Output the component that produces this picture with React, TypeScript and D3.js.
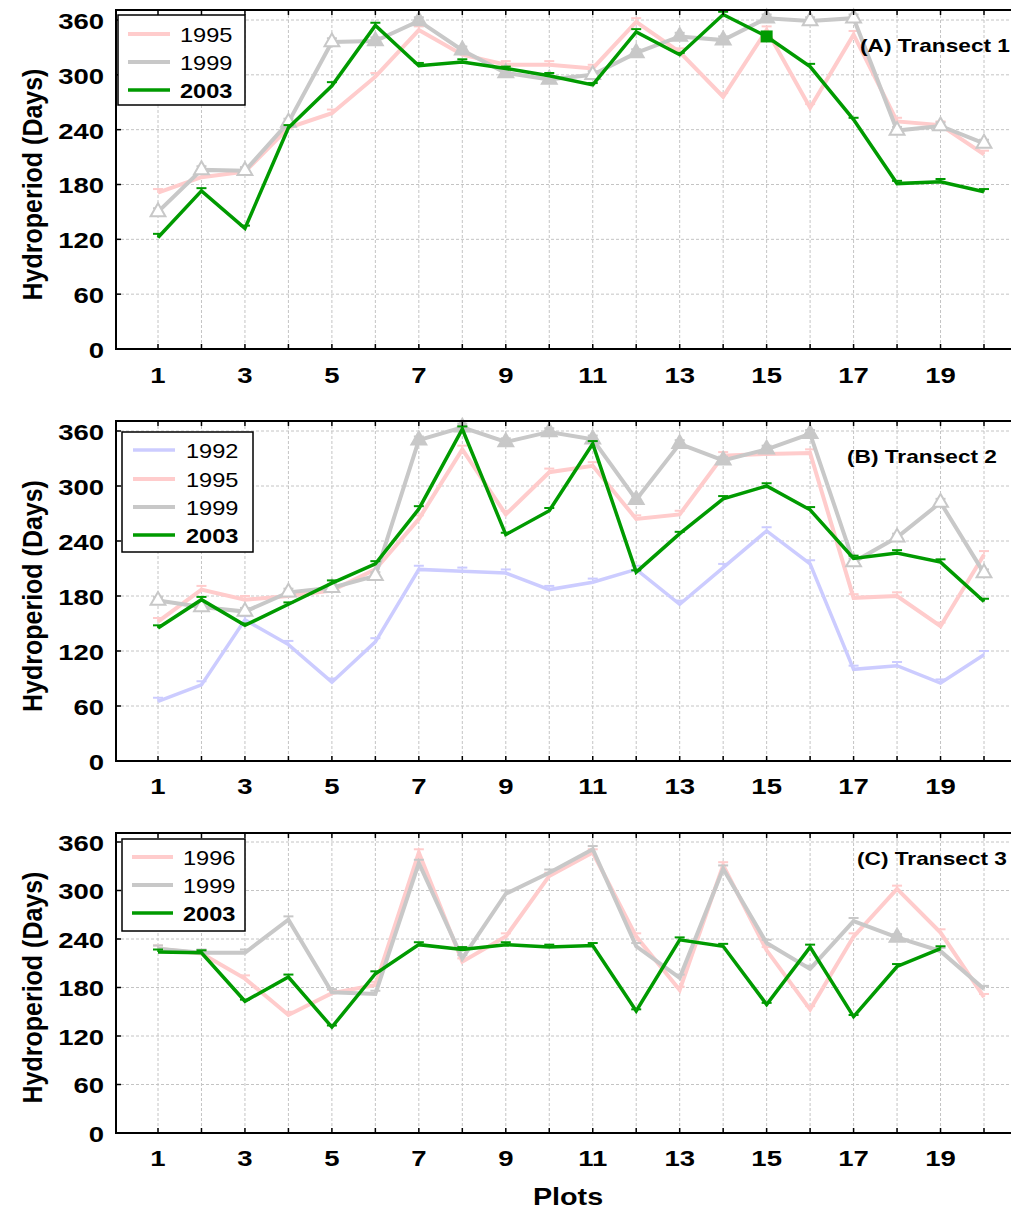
import * as d3 from 'd3';

// ---- data ----
const PLOTS = [1, 2, 3, 4, 5, 6, 7, 8, 9, 10, 11, 12, 13, 14, 15, 16, 17, 18, 19, 20];
const X_LABELS = [1, 3, 5, 7, 9, 11, 13, 15, 17, 19];
const Y_TICKS = [0, 60, 120, 180, 240, 300, 360];

// Transect 1
const A_1995 = [171, 188, 194, 242, 258, 298, 349, 322, 311, 311, 307, 358, 325, 276, 349, 264, 344, 249, 245, 213];
const A_1999 = [150, 196, 195, 248, 336, 337, 359, 327, 302, 295, 300, 324, 342, 338, 362, 359, 362, 239, 244, 225];
const A_1999_MARK = ['h', 'h', 'h', 'h', 'h', 'f', 'f', 'f', 'f', 'f', 'h', 'f', 'f', 'f', 'f', 'h', 'h', 'h', 'h', 'h'];
const A_2003 = [122, 173, 132, 242, 288, 354, 310, 314, 307, 299, 289, 347, 322, 366, 342, 309, 251, 181, 183, 172];
const A_2003_ERR = [4, 3, 3, 3, 4, 3, 3, 3, 2, 3, 2, 3, 2, 3, 3, 3, 2, 3, 3, 3];
const A_2003_SQUARE = [15];

// Transect 2
const B_1992 = [65, 83, 154, 127, 86, 130, 209, 207, 205, 187, 195, 209, 171, 211, 251, 215, 100, 104, 85, 116];
const B_1995 = [152, 187, 176, 180, 186, 209, 264, 340, 269, 315, 322, 264, 269, 333, 335, 336, 178, 180, 147, 225];
const B_1999 = [175, 168, 163, 184, 189, 202, 350, 364, 348, 359, 351, 285, 346, 328, 340, 357, 217, 244, 282, 205];
const B_1999_MARK = ['h', 'h', 'h', 'h', 'h', 'h', 'f', 'f', 'f', 'f', 'f', 'f', 'f', 'f', 'f', 'f', 'h', 'h', 'h', 'h'];
const B_2003 = [145, 176, 148, 171, 194, 215, 275, 362, 247, 273, 346, 206, 248, 286, 300, 274, 221, 227, 217, 174];
const B_2003_ERR = [3, 3, 2, 2, 3, 3, 3, 3, 2, 3, 3, 2, 2, 3, 3, 3, 3, 3, 3, 3];

// Transect 3
const C_1996 = [228, 222, 191, 146, 173, 183, 347, 212, 243, 318, 347, 243, 177, 331, 226, 153, 243, 302, 248, 168];
const C_1999 = [228, 223, 223, 264, 174, 172, 334, 216, 296, 322, 351, 231, 192, 327, 235, 203, 262, 242, 225, 178];
const C_1999_MARK = ['', '', '', '', '', '', '', '', '', '', '', '', '', '', '', '', '', 'f', '', ''];
const C_2003 = [224, 223, 163, 193, 131, 197, 233, 227, 233, 230, 232, 151, 239, 231, 159, 230, 144, 206, 228];
const C_2003_ERR = [3, 3, 2, 3, 2, 3, 3, 3, 3, 3, 3, 2, 3, 3, 2, 3, 2, 3, 3];

const FADED_ERR = 4;

const GREEN = '#009a00';
const PINK = '#ffcccc';
const GREY = '#c8c8c8';
const BLUE = '#ccccff';

const FONT = '"Liberation Sans", Arial, sans-serif';
const STRETCH = 1.25;

type Series = {
  label: string;
  values: number[];
  color: string;
  width: number;
  bold?: boolean;
  err?: number[];
  marks?: string[];
  squares?: number[];
};

type PanelProps = {
  top: number;
  y360: number;
  y0: number;
  labelY: number;
  series: Series[];
  legend: { x0: number; y0: number; x1: number; y1: number; rows: number[]; lx0: number; lx1: number; tx: number };
  title: string;
  titleX: number;
  titleY: number;
};

const LEFT = 116;
const RIGHT = 1011;

const x = d3.scaleLinear().domain([1, 20]).range([158, 984]);

function SText({ x: tx, y: ty, children, size, bold, anchor = 'start', sx = STRETCH }: any) {
  return (
    <text
      transform={`translate(${tx},${ty}) scale(${sx},1)`}
      textAnchor={anchor}
      dominantBaseline="central"
      fontFamily={FONT}
      fontSize={size}
      fontWeight={bold ? 'bold' : 'normal'}
      fill="#000"
    >
      {children}
    </text>
  );
}

function Panel({ top, y360, y0, labelY, series, legend, title, titleX, titleY }: PanelProps) {
  const y = d3.scaleLinear().domain([0, 360]).range([y0, y360]);
  const line = d3
    .line<number>()
    .x((_, i) => x(PLOTS[i]))
    .y((d) => y(d));
  const tri = d3.symbol(d3.symbolTriangle, 95)();

  return (
    <g>
      {/* grid */}
      {PLOTS.map((p) => (
        <line key={'gx' + p} x1={x(p)} x2={x(p)} y1={top} y2={y0} stroke="#c4c4c4" strokeDasharray="3,2" />
      ))}
      {Y_TICKS.filter((t) => t > 0).map((t) => (
        <line key={'gy' + t} x1={LEFT} x2={RIGHT} y1={y(t)} y2={y(t)} stroke="#c4c4c4" strokeDasharray="3,2" />
      ))}

      {/* series */}
      {series.map((s) => (
        <g key={s.label}>
          <path d={line(s.values) || ''} fill="none" stroke={s.color} strokeWidth={s.width} strokeLinejoin="miter" />
          {s.values.map((v, i) => {
            const e = s.err ? s.err[i] : FADED_ERR;
            const cx = x(PLOTS[i]);
            return (
              <g key={i}>
                <line x1={cx} x2={cx} y1={y(v)} y2={y(v + e)} stroke={s.color} strokeWidth={1.5} />
                <line x1={cx - 5} x2={cx + 5} y1={y(v + e)} y2={y(v + e)} stroke={s.color} strokeWidth={2} />
              </g>
            );
          })}
          {s.marks &&
            s.values.map((v, i) =>
              s.marks![i] ? (
                <path
                  key={'m' + i}
                  d={tri || ''}
                  transform={`translate(${x(PLOTS[i])},${y(v)})`}
                  fill={s.marks![i] === 'f' ? s.color : '#fff'}
                  stroke={s.color}
                  strokeWidth={2}
                />
              ) : null
            )}
          {s.squares &&
            s.squares.map((p) => (
              <rect key={'sq' + p} x={x(p) - 6} y={y(s.values[p - 1]) - 6} width={12} height={12} fill={s.color} />
            ))}
        </g>
      ))}

      {/* axes */}
      <line x1={LEFT} x2={LEFT} y1={top} y2={y0} stroke="#000" strokeWidth={2} />
      <line x1={LEFT - 1} x2={RIGHT} y1={y0} y2={y0} stroke="#000" strokeWidth={2} />
      <line x1={LEFT - 1} x2={RIGHT} y1={top} y2={top} stroke="#000" strokeWidth={2} />
      {PLOTS.map((p) => (
        <g key={'t' + p}>
          <line x1={x(p)} x2={x(p)} y1={y0} y2={y0 - 5} stroke="#000" strokeWidth={1.5} />
          <line x1={x(p)} x2={x(p)} y1={top} y2={top + 5} stroke="#000" strokeWidth={1.5} />
        </g>
      ))}
      {Y_TICKS.map((t) => (
        <g key={'yt' + t}>
          <line x1={LEFT} x2={LEFT + 5} y1={y(t)} y2={y(t)} stroke="#000" strokeWidth={1.5} />
          <SText x={104} y={y(t) + 1} size={22} bold anchor="end">
            {t}
          </SText>
        </g>
      ))}
      {X_LABELS.map((p) => (
        <SText key={'xl' + p} x={x(p)} y={labelY} size={22} bold anchor="middle">
          {p}
        </SText>
      ))}

      {/* y title */}
      <text
        transform={`translate(33,${(y360 + y0) / 2}) rotate(-90) scale(1,1.12)`}
        textAnchor="middle"
        dominantBaseline="central"
        fontFamily={FONT}
        fontSize={25}
        fontWeight="bold"
      >
        Hydroperiod (Days)
      </text>

      {/* legend */}
      <rect
        x={legend.x0}
        y={legend.y0}
        width={legend.x1 - legend.x0}
        height={legend.y1 - legend.y0}
        fill="#fff"
        stroke="#000"
        strokeWidth={1.5}
      />
      {series.map((s, i) => (
        <g key={'lg' + s.label}>
          <line x1={legend.lx0} x2={legend.lx1} y1={legend.rows[i]} y2={legend.rows[i]} stroke={s.color} strokeWidth={s.width} />
          <SText x={legend.tx} y={legend.rows[i] + 1} size={20} bold={s.bold} sx={1.18}>
            {s.label}
          </SText>
        </g>
      ))}

      <SText x={titleX} y={titleY} size={18} bold sx={1.26}>
        {title}
      </SText>
    </g>
  );
}

export default function App() {
  return (
    <div style={{ position: 'absolute', left: 0, top: 0 }}>
      <svg width={1011} height={1209} style={{ display: 'block', background: '#fff' }}>
        <Panel
          top={10}
          y360={20}
          y0={349}
          labelY={375}
          title="(A) Transect 1"
          titleX={860}
          titleY={45}
          legend={{ x0: 118, y0: 15, x1: 245, y1: 105, rows: [34, 62, 90], lx0: 128, lx1: 170, tx: 180 }}
          series={[
            { label: '1995', values: A_1995, color: PINK, width: 4 },
            { label: '1999', values: A_1999, color: GREY, width: 4, marks: A_1999_MARK },
            { label: '2003', values: A_2003, color: GREEN, width: 3.5, bold: true, err: A_2003_ERR, squares: A_2003_SQUARE },
          ]}
        />
        <Panel
          top={421}
          y360={431}
          y0={761}
          labelY={786}
          title="(B) Transect 2"
          titleX={847}
          titleY={456}
          legend={{ x0: 122, y0: 432, x1: 253, y1: 552, rows: [450, 479, 507, 535], lx0: 133, lx1: 175, tx: 186 }}
          series={[
            { label: '1992', values: B_1992, color: BLUE, width: 3.5 },
            { label: '1995', values: B_1995, color: PINK, width: 4 },
            { label: '1999', values: B_1999, color: GREY, width: 4, marks: B_1999_MARK },
            { label: '2003', values: B_2003, color: GREEN, width: 3.5, bold: true, err: B_2003_ERR },
          ]}
        />
        <Panel
          top={833}
          y360={842}
          y0={1133}
          labelY={1158}
          title="(C) Transect 3"
          titleX={857}
          titleY={858}
          legend={{ x0: 122, y0: 839, x1: 245, y1: 931, rows: [857, 885, 913], lx0: 132, lx1: 173, tx: 183 }}
          series={[
            { label: '1996', values: C_1996, color: PINK, width: 4 },
            { label: '1999', values: C_1999, color: GREY, width: 4, marks: C_1999_MARK },
            { label: '2003', values: C_2003, color: GREEN, width: 3.5, bold: true, err: C_2003_ERR },
          ]}
        />
        <SText x={568} y={1197} size={23} bold anchor="middle">
          Plots
        </SText>
      </svg>
    </div>
  );
}
